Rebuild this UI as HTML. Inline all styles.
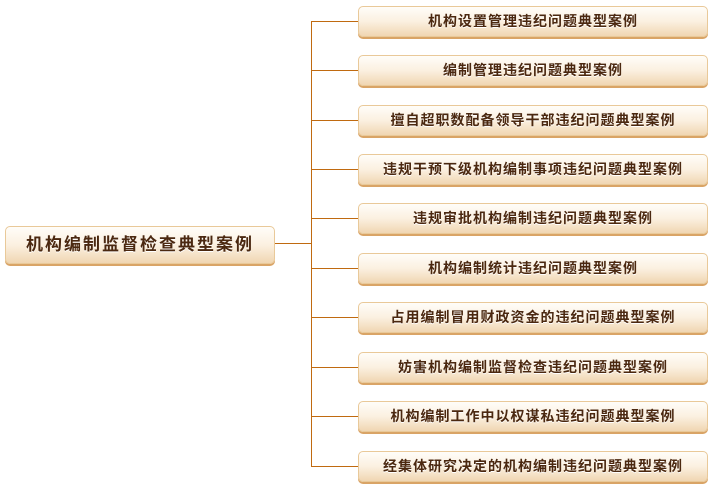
<!DOCTYPE html>
<html><head><meta charset="utf-8"><style>
body{margin:0;width:714px;height:491px;background:#fff;position:relative;overflow:hidden;font-family:"Liberation Sans","Noto Sans CJK SC",sans-serif}
.b{position:absolute;box-sizing:border-box;border:1px solid #e9c999;border-radius:5px;background:linear-gradient(#fffdf9 0%,#fbf0e0 50%,#f0d6b2 100%);box-shadow:0 2px 0 #d9a466;color:#4b2810;text-align:center;font-weight:bold;text-shadow:0 1px 0 #fff}
.c{left:358px;width:350px;height:31px;line-height:29px;font-size:14px;letter-spacing:1px}
.l{position:absolute;background:#c06a10}
</style></head><body>
<div class="b" style="left:5px;top:226px;width:270px;height:38px;line-height:36px;font-size:17px;letter-spacing:2px">机构编制监督检查典型案例</div>
<div class="l" style="left:275px;top:243px;width:36px;height:1px"></div>
<div class="l" style="left:311px;top:21px;width:1px;height:446px"></div>
<div class="l" style="left:311px;top:21px;width:47px;height:1px"></div>
<div class="l" style="left:311px;top:70px;width:47px;height:1px"></div>
<div class="l" style="left:311px;top:120px;width:47px;height:1px"></div>
<div class="l" style="left:311px;top:169px;width:47px;height:1px"></div>
<div class="l" style="left:311px;top:218px;width:47px;height:1px"></div>
<div class="l" style="left:311px;top:268px;width:47px;height:1px"></div>
<div class="l" style="left:311px;top:317px;width:47px;height:1px"></div>
<div class="l" style="left:311px;top:367px;width:47px;height:1px"></div>
<div class="l" style="left:311px;top:416px;width:47px;height:1px"></div>
<div class="l" style="left:311px;top:466px;width:47px;height:1px"></div>
<div class="b c" style="top:6px">机构设置管理违纪问题典型案例</div>
<div class="b c" style="top:55px">编制管理违纪问题典型案例</div>
<div class="b c" style="top:105px">擅自超职数配备领导干部违纪问题典型案例</div>
<div class="b c" style="top:154px">违规干预下级机构编制事项违纪问题典型案例</div>
<div class="b c" style="top:203px">违规审批机构编制违纪问题典型案例</div>
<div class="b c" style="top:253px">机构编制统计违纪问题典型案例</div>
<div class="b c" style="top:302px">占用编制冒用财政资金的违纪问题典型案例</div>
<div class="b c" style="top:352px">妨害机构编制监督检查违纪问题典型案例</div>
<div class="b c" style="top:401px">机构编制工作中以权谋私违纪问题典型案例</div>
<div class="b c" style="top:451px">经集体研究决定的机构编制违纪问题典型案例</div>
</body></html>
